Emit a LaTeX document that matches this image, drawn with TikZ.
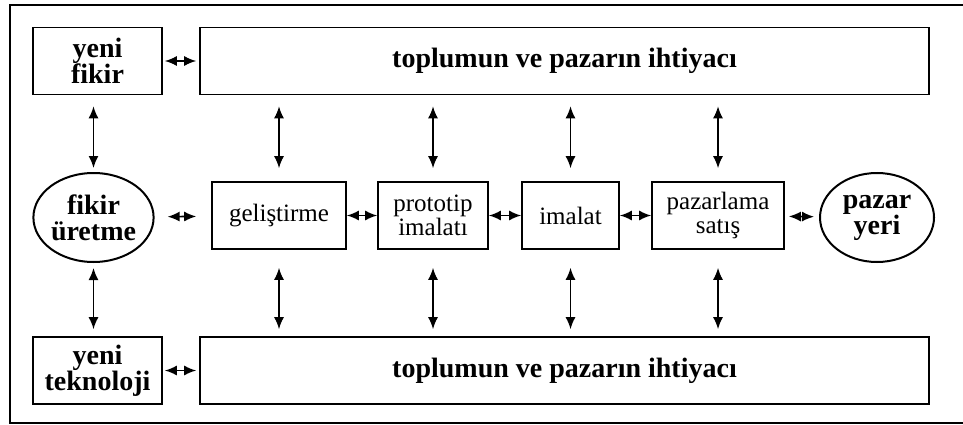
\documentclass[tikz,border=0pt]{standalone}
\usepackage{fontspec}
\setmainfont{Liberation Serif}
\usetikzlibrary{shapes.geometric,arrows.meta}

\tikzset{
  kutu/.style={draw, line width=1.6pt, align=center, inner sep=0pt,
    font=\fontsize{25}{24}\selectfont},
  kalin/.style={kutu, font=\fontsize{28}{26}\selectfont\bfseries},
  yuvarlak/.style={kalin, ellipse, line width=2pt, minimum width=113pt, minimum height=89pt},
  ok/.style={{Latex[length=12pt,width=10pt]}-{Latex[length=12pt,width=10pt]}, line width=1.6pt}
}

\begin{document}
\begin{tikzpicture}[x=1pt, y=-1pt]
  \useasboundingbox (0,0) rectangle (963,425);
  \draw[line width=2.4pt] (10,5) rectangle (980,423);

  \node[kalin, minimum width=129pt, minimum height=67pt] at (97.5,61) (fikir) {yeni\\fikir};
  \node[kalin, minimum width=729pt, minimum height=67pt] at (564.5,61) (ihtiyacust) {toplumun ve pazarın ihtiyacı};
  \node[kalin, minimum width=129pt, minimum height=67pt] at (97.5,370.5) (teknoloji) {yeni\\teknoloji};
  \node[kalin, minimum width=729pt, minimum height=67pt] at (564.5,370.5) (ihtiyacalt) {toplumun ve pazarın ihtiyacı};

  \node[yuvarlak] at (93.5,217.5) (uretme) {fikir\\üretme};
  \node[kutu, minimum width=134pt, minimum height=67pt] at (279,215.5) (gelistirme) {geliştirme};
  \node[kutu, minimum width=110pt, minimum height=67pt] at (433,215.5) (prototip) {prototip\\imalatı};
  \node[kutu, minimum width=97pt, minimum height=67pt] at (570.5,215.5) (imalat) {imalat};
  \node[kutu, minimum width=132pt, minimum height=67pt] at (718,215.5) (pazarlama) {pazarlama\\satış};
  \node[yuvarlak, minimum width=114pt] at (877,217.5) (pazar) {pazar\\yeri};

  \draw[ok, shorten <=2pt, shorten >=3pt] (fikir) -- (ihtiyacust);
  \draw[ok, shorten <=2pt, shorten >=3pt] (teknoloji) -- (ihtiyacalt);
  \draw[ok, shorten <=13pt, shorten >=15pt] (uretme) -- (gelistirme);
  \draw[ok] (gelistirme) -- (prototip);
  \draw[ok] (prototip) -- (imalat);
  \draw[ok] (imalat) -- (pazarlama);
  \draw[ok, shorten <=4pt, shorten >=5pt] (pazarlama) -- (pazar);

  \draw[ok, shorten <=11pt, shorten >=4pt] (fikir.south -| uretme.north) -- (uretme.north);
  \draw[ok, shorten <=5pt, shorten >=7pt] (uretme.south) -- (teknoloji.north -| uretme.south);
  \foreach \k in {gelistirme, prototip, imalat, pazarlama} {
    \draw[ok, shorten <=11pt, shorten >=13pt] (ihtiyacust.south -| \k.north) -- (\k.north);
    \draw[ok, shorten <=18pt, shorten >=7pt] (\k.south) -- (ihtiyacalt.north -| \k.south);
  }
\end{tikzpicture}
\end{document}
